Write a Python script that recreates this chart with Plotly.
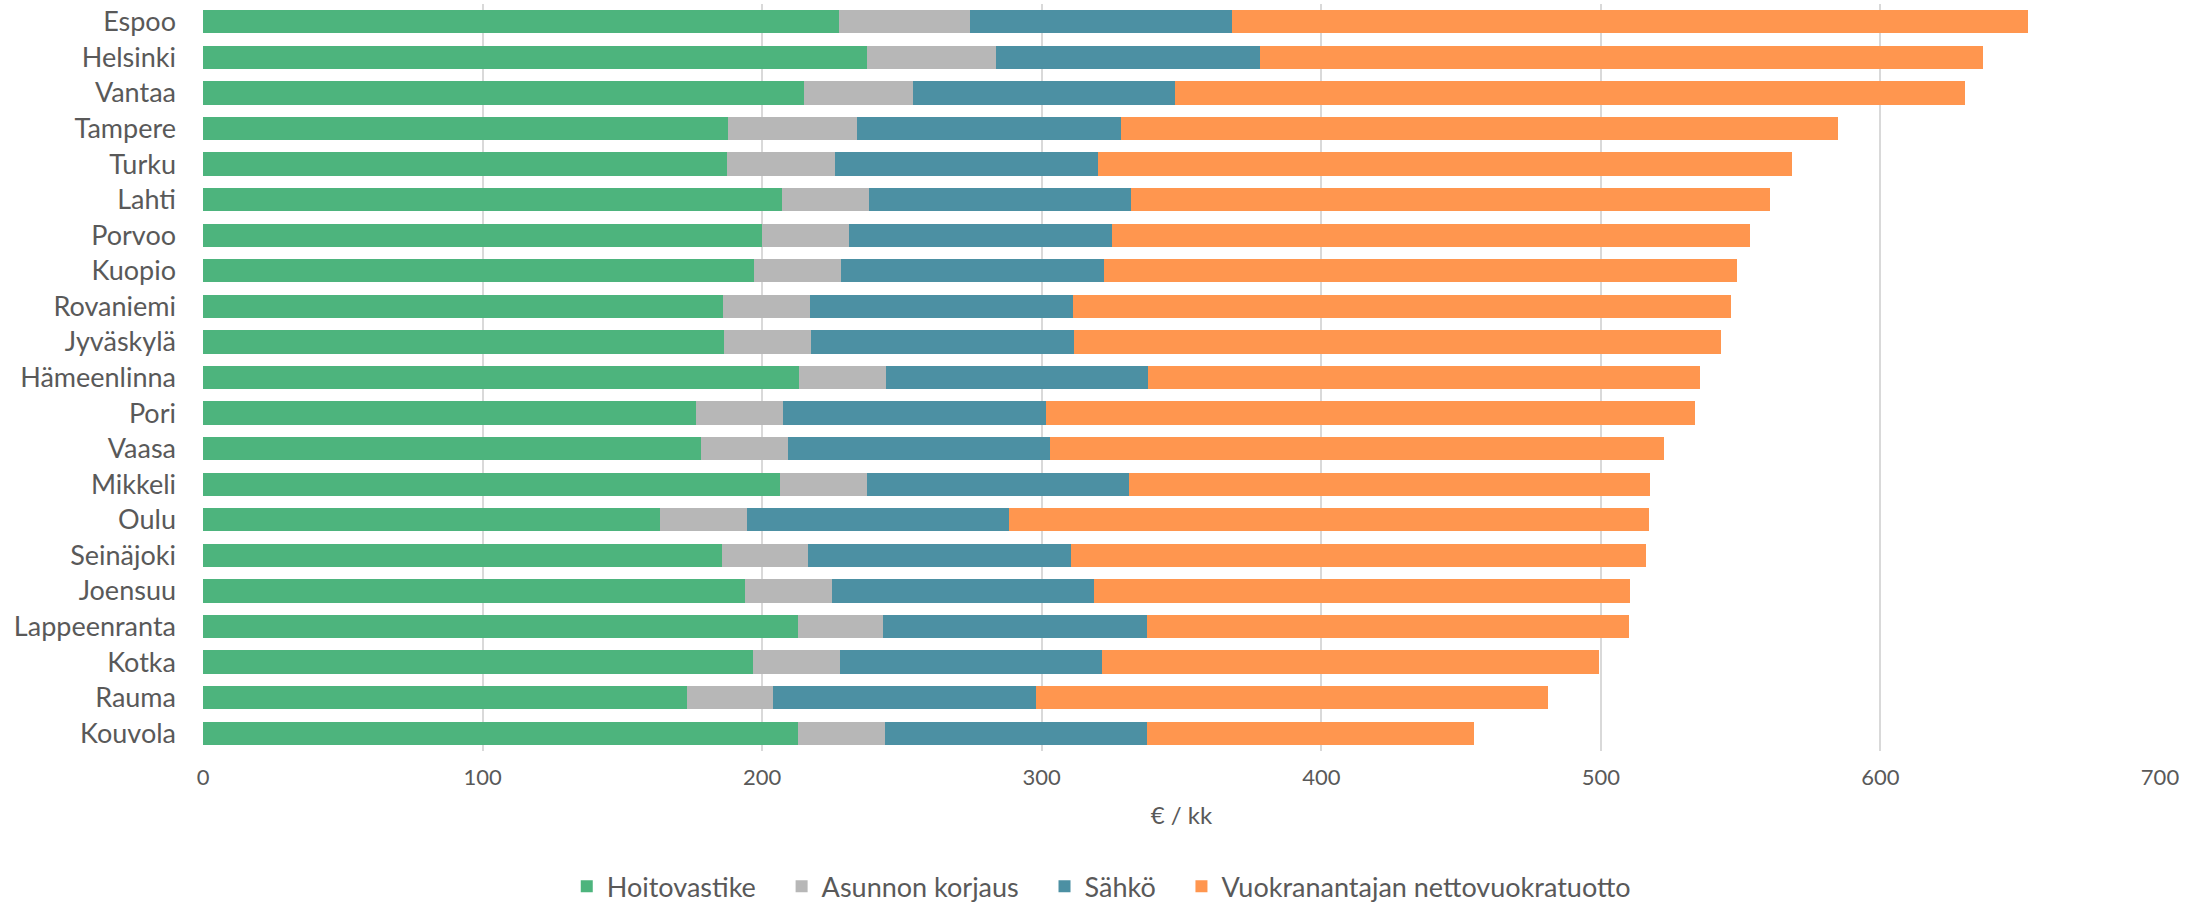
import plotly.graph_objects as go

cities = ["Espoo", "Helsinki", "Vantaa", "Tampere", "Turku", "Lahti", "Porvoo", "Kuopio",
          "Rovaniemi", "Jyväskylä", "Hämeenlinna", "Pori", "Vaasa", "Mikkeli", "Oulu",
          "Seinäjoki", "Joensuu", "Lappeenranta", "Kotka", "Rauma", "Kouvola"]

hoitovastike = [227.6, 237.4, 215.1, 187.8, 187.3, 207.1, 199.8, 197.0, 186.0, 186.3, 213.1,
                176.5, 178.0, 206.3, 163.4, 185.5, 194.0, 212.8, 196.8, 173.0, 212.8]
korjaus = [46.7, 46.4, 38.9, 46.1, 38.8, 31.1, 31.1, 31.1, 31.1, 31.1, 31.1,
           31.1, 31.1, 31.1, 31.1, 30.9, 30.9, 30.6, 31.1, 30.8, 31.1]
sahko = [93.8, 94.1, 93.8, 94.4, 94.2, 93.9, 94.1, 94.1, 94.0, 94.0, 93.8,
         93.8, 94.0, 93.9, 93.8, 94.1, 93.9, 94.2, 93.8, 94.1, 93.7]
nettotuotto = [284.7, 258.7, 282.5, 256.7, 248.0, 228.5, 228.2, 226.6, 235.6, 231.5, 197.5,
               232.1, 219.5, 186.3, 229.0, 205.7, 191.5, 172.3, 177.8, 183.2, 117.1]

series_names = ["Hoitovastike", "Asunnon korjaus", "Sähkö", "Vuokranantajan nettovuokratuotto"]
series_values = [hoitovastike, korjaus, sahko, nettotuotto]
colors = ["#4DB47D", "#B7B7B7", "#4C90A3", "#FF964F"]

x_ticks = [0, 100, 200, 300, 400, 500, 600, 700]
x_title = "€ / kk"

FONT = "Lato"
TXT = "#595959"
PAD = "\u00a0\u00a0\u00a0"

fig = go.Figure()
for i, (name, vals, col) in enumerate(zip(series_names, series_values, colors)):
    label = name + (PAD if i < len(series_names) - 1 else "")
    fig.add_trace(go.Bar(
        y=cities, x=vals, name=label, orientation="h",
        marker=dict(color=col, line=dict(width=0)),
    ))

fig.update_layout(
    barmode="stack",
    bargap=0.345,
    width=2203, height=907,
    margin=dict(l=203, r=43, t=4, b=156, pad=0, autoexpand=False),
    paper_bgcolor="white",
    plot_bgcolor="white",
    font=dict(family=FONT, color=TXT, size=24),
    showlegend=True,
    legend=dict(
        orientation="h",
        x=0.459, xanchor="center",
        y=-0.1816, yanchor="middle",
        font=dict(size=27, color=TXT, family=FONT),
        itemwidth=30,
        traceorder="normal",
    ),
    xaxis=dict(
        range=[0, 700],
        tickvals=x_ticks,
        ticktext=[str(v) for v in x_ticks],
        showgrid=True, gridcolor="#D9D9D9", gridwidth=1.5,
        zeroline=False, showline=False, ticks="",
        tickfont=dict(size=22, color=TXT, family=FONT),
        ticklabelstandoff=11,
        title=dict(text=x_title, font=dict(size=24, color=TXT, family=FONT), standoff=18),
        automargin=False,
        fixedrange=True,
    ),
    yaxis=dict(
        autorange="reversed",
        showgrid=False, zeroline=False, showline=False, ticks="",
        tickfont=dict(size=27, color=TXT, family=FONT),
        ticklabelstandoff=26,
        automargin=False,
        fixedrange=True,
    ),
)

fig.write_html(
    "out.html",
    config={"displayModeBar": False},
    post_script="document.body.style.margin='0';document.body.style.padding='0';",
)
